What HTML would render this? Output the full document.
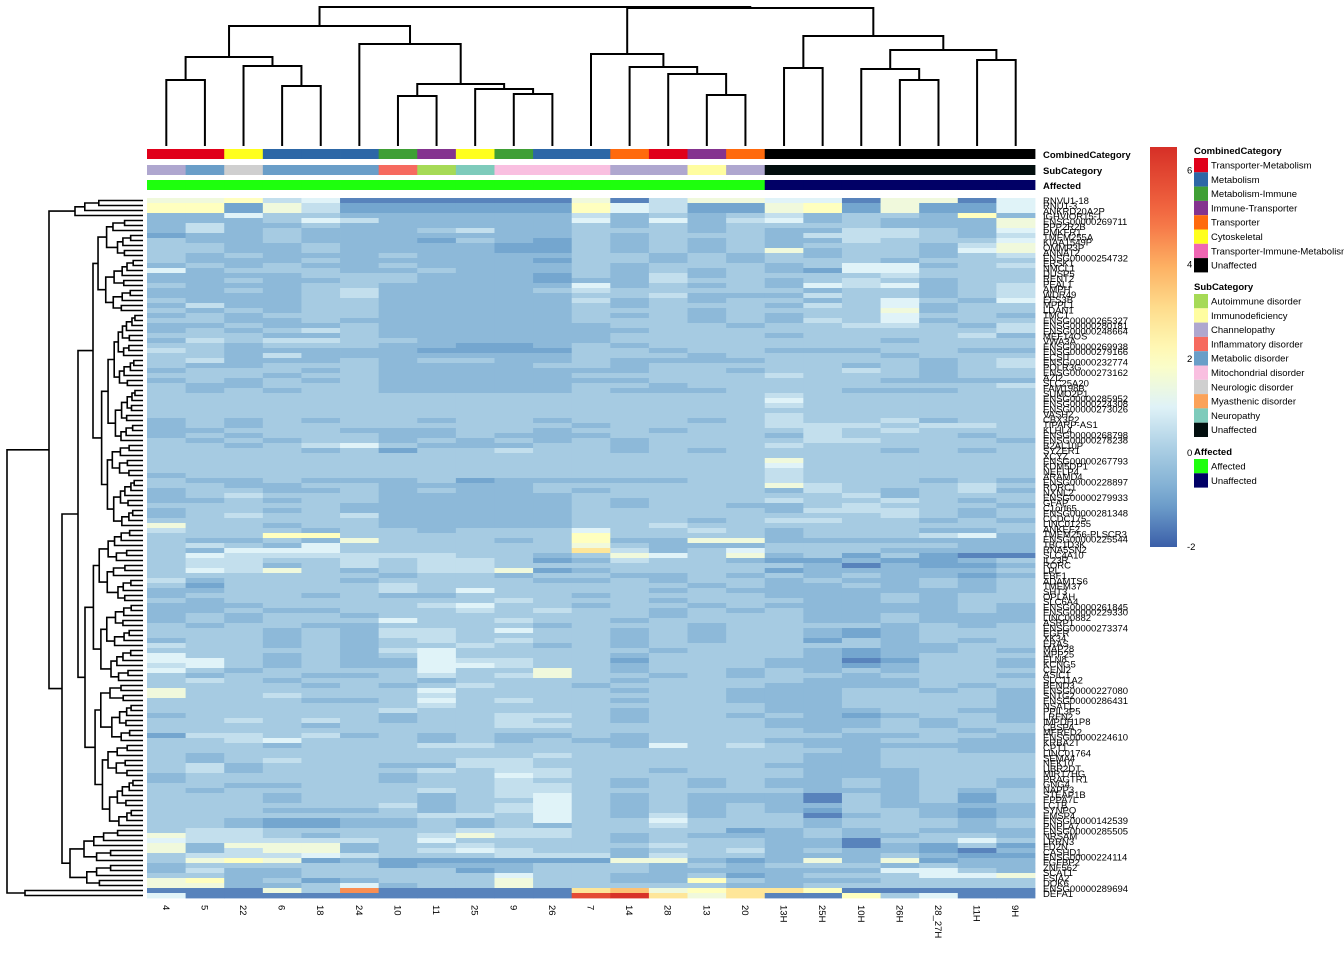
<!DOCTYPE html>
<html><head><meta charset="utf-8">
<style>
html,body{margin:0;padding:0;background:#fff;}
svg{display:block;font-family:"Liberation Sans",Arial,sans-serif;}
</style></head>
<body>
<svg id="chart" width="1344" height="960" viewBox="0 0 1344 960" xmlns="http://www.w3.org/2000/svg">
<g id="colDendro"></g>
<g id="rowDendro"></g>
<g id="annot"></g>
<g id="cells"></g>
<g id="rowLabels" font-size="9.5" fill="#000"></g>
<g id="colLabels" font-size="9.5" fill="#000"></g>
<g id="legend" font-size="9.5"></g>
</svg>
<script>
// ---------- data ----------
const columns = ["4","5","22","6","18","24","10","11","25","9","26","7","14","28","13","20","13H","25H","10H","26H","28_27H","11H","9H"];
const combinedCategory = ["Transporter-Metabolism","Transporter-Metabolism","Cytoskeletal","Metabolism","Metabolism","Metabolism","Metabolism-Immune","Immune-Transporter","Cytoskeletal","Metabolism-Immune","Metabolism","Metabolism","Transporter","Transporter-Metabolism","Immune-Transporter","Transporter","Unaffected","Unaffected","Unaffected","Unaffected","Unaffected","Unaffected","Unaffected"];
const subCategory = ["Channelopathy","Metabolic disorder","Neurologic disorder","Metabolic disorder","Metabolic disorder","Metabolic disorder","Inflammatory disorder","Autoimmune disorder","Neuropathy","Mitochondrial disorder","Mitochondrial disorder","Mitochondrial disorder","Channelopathy","Channelopathy","Immunodeficiency","Channelopathy","Unaffected","Unaffected","Unaffected","Unaffected","Unaffected","Unaffected","Unaffected"];
const affected = ["Affected","Affected","Affected","Affected","Affected","Affected","Affected","Affected","Affected","Affected","Affected","Affected","Affected","Affected","Affected","Affected","Unaffected","Unaffected","Unaffected","Unaffected","Unaffected","Unaffected","Unaffected"];
const combinedNames = ["Transporter-Metabolism","Metabolism","Metabolism-Immune","Immune-Transporter","Transporter","Cytoskeletal","Transporter-Immune-Metabolism","Unaffected"];
const combinedColors = ["#e0001a","#2d67a6","#3f9f35","#84338f","#ff6a0d","#ffff1e","#ef66b3","#000000"];
const subNames = ["Autoimmune disorder","Immunodeficiency","Channelopathy","Inflammatory disorder","Metabolic disorder","Mitochondrial disorder","Neurologic disorder","Myasthenic disorder","Neuropathy","Unaffected"];
const subColors = ["#a6da56","#fffda0","#afa7cf","#f66a5f","#6a9ec8","#f9bfe0","#cfcfcf","#fba259","#7ecbbb","#020e0e"];
const affNames = ["Affected","Unaffected"];
const affColors = ["#1eff0d","#010066"];
const colorTicks = [6,4,2,0,-2];
const codeValues = {"0":-2,"1":-1.5,"2":-1,"3":-0.5,"4":0,"5":0.5,"6":1,"7":1.5,"8":2,"9":2.8,"A":3.6,"B":4.5,"C":5.8,"D":6.4};
const rows = [
"77856111111715776617716","88275222222865227827226","88275222222865227827226","33644333333534345344383",
"33346533333636356343337","35334333333434344443337","35343334533444343355436","23343333333434443555435",
"43343332432434343354446","44334333322434343444357","44334333322434347344367","43433343333443434344345",
"43334333332443434443444","34343343333434443466345","63444334333434343266444","33334443332435344445444",
"33433443332335443454344","43334433333634343656345","33434533334544444344345","33334533333445333544345",
"43334433333534344346436","35334433333434443546344","43434433333444344447344","34344433333434343446443",
"44334333333444343546344","33433433333344434455435","34345433333334444444445","44433433333344443444453",
"35455443333344444443444","44344433223434444444444","54333332222443443334433","44353333333444344443444",
"45333434433433334444345","43344433334434444434345","34443433333334434454344","44434433333444445444344",
"34343433333334444443333","43344433333443444444445","43434433333433344433344","44444444444444445444444",
"44444444444444446444444","44444444444444445444444","44444444444444444444444","44444444444444445444444",
"34343443443444345445344","34344444444344445554554","33444333443443444545444","34344433433344443544434",
"43434434343434444554443","44345643334434445444444","44443424454434344443434","44444444444444444444444",
"44444444444444447444444","44444444444444446444444","44444444444444445444444","34444444444444445444444",
"43343334233333445444343","44334433334444447544454","34433434334344443543453","34544433333444444453444",
"33434433333434445445434","44444333333434433454443","34434333333444443555434","34544533333444444445434",
"44444433333444345544343","74434433333445444444444","54443443444644543444334","44488444444844443444563",
"43343744434833773333333","45436444444743334444433","43666444444953464443333","46555555443476473424211",
"45544545542354432232234","45534545544444444313223","46574345572344442333334","44444434434433434343323",
"53444344443343443433434","42444454444444343343434","33444454644443433333334","34443433444344443334344",
"43444444454443444334344","33344445644344343333343","33433444545443434333343","34344344444443444334333",
"34344464454434444334333","43443344443444344443434","44434355464434344323444","44434355444434344323444",
"34434345454434344243434","54434344543434444443344","44444356444443444323343","64434346444434444323444",
"66434336554424443312443","56434336654434443323443","64344446447434434343444","43443345457443434434443",
"45434443444434444333444","44443434544344443333434","74444446444434433344343","74454445444444433344443",
"44443346454434433344443","44444445444444443344443","44444454444434443334433","34444434455434434323443",
"44545434454434443334343","44443444455444443334344","44444444444444444344434","25545343433434444433443",
"44564443434334443334433","44434445544436454333333","44444444444444444434433","43444444445444444334444",
"43454444554444444334444","45344433554444443334444","45344445455443444333444","34444434465444444333444",
"34444434454434343343443","44334444455434343343443","43444445455444444333434","44434443456434333143424",
"44434443446434333143424","44444453456434343343333","44433343456434343244323","44444445546435344134323",
"44322334346446444344434","44322334343445444344434","45544444555444423434333","75543445755434333433443",
"65555546444434443314464","73777344544445443313242","73577345654434453433213","45556544455535443334322",
"47872322222277323737233","34444423334443434443433","35334444234443333336643","44334444464433423444667",
"78342344474433843334444","77334634474444433444444","11174B111119A7899811111","61111111111CD9791184611"
];
const rowNames = ["RNVU1-18","RNU1-3","ANKRD20A2P","IGHVIOR15-1","ENSG00000269711","PPP2R2B","PMKFR1","TMEM255A","KIAA1549P","OMMP3P","ANNAT2","ENSG00000254732","ERSK1","NMCL1","DUSP5","RENT2","PEAL1","AMPH","WDR49","EFS3B","MPPL1","LDAN1","TMC1","ENSG00000265327","ENSG00000280181","ENSG00000248664","MEF14OS","VWA3A","ENSG00000269938","ENSG00000279166","ECSIT","ENSG00000232774","POLR3G","ENSG00000273162","AZI2","SLC25A20","FAM198B","SUMO2P1","ENSG00000285952","ENSG00000224308","ENSG00000273026","VASH2","CBX3P2","TIPARP-AS1","KLHL4","ENSG00000268798","ENSG00000278238","B2AL10P","SYZER1","XCYZ","ENSG00000267793","KDM5DP1","NEFLP4","ARAMD4","ENSG00000228897","RORC1","NXNL2","ENSG00000279933","GFAP","C1orf65","ENSG00000281348","CCDC175","LINC01255","ANKEF2","TMEM256-PLSCR3","ENSG00000225544","TBC1D3K","RNA5SN2","SLC4A10","IL23R","RORC","LPL","EBF1","ADAMTS6","TMEM37","SHT3","OPLAH","SLC6A4","ENSG00000261845","ENSG00000229330","LINC00882","ASRP1","ENSG00000273374","EGFR","XK34","ERAS","MAP28","MPP25","ELN8","KCNG5","CENI2","ASIC1","SLC11A2","BEND3","ENSG00000227080","SNTG2","ENSG00000286431","NSAT1","PPIL3P5","LRFN2","IMPDH1P8","CBSPA","MFRED2","ENSG00000224610","KRBA2T","CPT1","LINC01764","SEMA4","NEK10","UBR2DT","MIR17HG","PRAGTR1","GNG4","NAPP3","STEAP1B","EPPA7L","LCTB","SYNPO","EMSP4","ENSG00000142539","PNPLA7","ENSG00000285505","NRSAM","LRRN3","FD2N","CASHD1","ENSG00000224114","FGFBP2","ZNF562","SCAT1","FSIA2","DOK6","ENSG00000289694","DEFA1"];

// ---------- geometry ----------
const NS="http://www.w3.org/2000/svg";
const X0=147, X1=1035, Y0=198, Y1=898;
const cw=(X1-X0)/columns.length;
const rh=(Y1-Y0)/rows.length;
const xOf=i=>X0+i*cw;
const yOf=r=>Y0+r*rh;
function mk(tag,attrs,parent){const e=document.createElementNS(NS,tag);for(const k in attrs)e.setAttribute(k,attrs[k]);parent.appendChild(e);return e;}

const stops=[[-2,[59,95,168]],[-1,[116,166,207]],[0,[166,203,226]],[1,[224,243,248]],[2,[255,255,191]],[3,[254,224,144]],[4,[253,174,97]],[5,[244,109,67]],[6.5,[214,47,39]]];
function col(v){
  if(v<=stops[0][0])return `rgb(${stops[0][1]})`;
  for(let i=1;i<stops.length;i++){if(v<=stops[i][0]){const a=stops[i-1],b=stops[i];const t=(v-a[0])/(b[0]-a[0]);return `rgb(${a[1].map((c,j)=>Math.round(c+(b[1][j]-c)*t)).join(',')})`;}}
  return `rgb(${stops[stops.length-1][1]})`;
}

// ---------- cells ----------
const gc=document.getElementById('cells');
rows.forEach((s,r)=>{
  for(let c=0;c<columns.length;c++){
    const ch=s[c]||"4";
    const v=codeValues[ch]!==undefined?codeValues[ch]:0;
    const e=mk('rect',{x:xOf(c).toFixed(2),y:yOf(r).toFixed(2),width:(cw+0.4).toFixed(2),height:(rh+0.4).toFixed(2),fill:col(v)},gc);
    
    
  }
});

// ---------- annotations ----------
const ga=document.getElementById('annot');
const annRows=[[combinedCategory,combinedNames,combinedColors,149,"CombinedCategory"],[subCategory,subNames,subColors,165,"SubCategory"],[affected,affNames,affColors,180,"Affected"]];
annRows.forEach(([vals,names,colors,y,title])=>{
  vals.forEach((v,i)=>{
    const e=mk('rect',{x:xOf(i).toFixed(2),y:y,width:(cw+0.4).toFixed(2),height:10,fill:colors[names.indexOf(v)]},ga);
    
    
  });
  const t=mk('text',{x:1043,y:y+9,'font-size':9.5,'font-weight':'bold'},ga);
  t.textContent=title;
  
  
});

// ---------- row labels ----------
const gr=document.getElementById('rowLabels');
const ls=(896-203)/(rowNames.length-1);
rowNames.forEach((n,i)=>{
  const t=mk('text',{x:1043,y:(204+i*ls).toFixed(1)},gr);
  t.textContent=n;
  
  
});

// ---------- column labels ----------
const gcl=document.getElementById('colLabels');
columns.forEach((n,i)=>{
  const cx=xOf(i)+cw/2;
  const t=mk('text',{x:0,y:0,transform:`translate(${(cx-3.5).toFixed(1)},905) rotate(90)`},gcl);
  t.textContent=n;
  
  
});

// ---------- column dendrogram ----------
const gd=document.getElementById('colDendro');
const merges=[[0,1,80],[3,4,86],[2,"b",66],["a","c",57],[6,7,96],[9,10,94],[8,"f",89],["e","g",84],[5,"h",44],["d","i",26],[14,15,95],[13,"k",74],[12,"l",67],[11,"m",54],[16,17,68],[19,20,80],[18,"p",69],[21,22,60],["q","r",50],["o","s",36],["n","t",8],["j","u",7]];
const mnames="abcdefghijklmnopqrstuv";
const dnodes={};
for(let i=0;i<columns.length;i++)dnodes[i]={x:xOf(i)+cw/2,y:146};
merges.forEach((m,k)=>{
  const A=dnodes[m[0]],B=dnodes[m[1]],h=m[2];
  const p=mk('path',{d:`M${A.x},${A.y}V${h}H${B.x}V${B.y}`,fill:'none',stroke:'#000','stroke-width':2},gd);
  
  
  dnodes[mnames[k]]={x:(A.x+B.x)/2,y:h};
});

// ---------- row dendrogram ----------
const gdr=document.getElementById('rowDendro');
function drawU(L,R,x){
  const p=mk('path',{d:`M${L.x},${L.y.toFixed(1)}H${x}V${R.y.toFixed(1)}H${R.x}`,fill:'none',stroke:'#000','stroke-width':1.6},gdr);
  
  
}
function branch(a,b,x){
  const n=b-a+1;
  if(n===1)return {x:143,y:yOf(a)+rh/2};
  let split;
  if(n===2)split=a;
  else{ const f=[0.45,0.3,0.6,0.5,0.38,0.55][(a*7+b*3)%6]; split=a+Math.max(0,Math.min(n-2,Math.round((n-1)*f)));}
  const step=Math.max(3,Math.min(14,(143-x)/(Math.log2(n)+1)));
  const L=branch(a,split,Math.min(141,x+step*((a+b)%3===0?0.7:1)));
  const R=branch(split+1,b,Math.min(141,x+step*((a+b)%2?1.2:0.9)));
  drawU(L,R,x);
  return {x:x,y:(L.y+R.y)/2};
}
const nRows=rows.length;
const topClust=branch(0,3,75);
const midA=branch(4,65,93);
const midB=branch(66,125,85);
const midClust={x:78,y:(midA.y+midB.y)/2}; drawU(midA,midB,78);
const lowB=branch(126,137,70);
const a2Clust={x:62,y:(midClust.y+lowB.y)/2}; drawU(midClust,lowB,62);
const clA={x:49,y:(topClust.y+a2Clust.y)/2}; drawU(topClust,a2Clust,49);
const botClust=branch(138,nRows-1,25);
drawU(clA,botClust,7);

// ---------- legend ----------
const gl=document.getElementById('legend');
const defs=mk('defs',{},gl);
const lg=mk('linearGradient',{id:'cbar',x1:0,y1:1,x2:0,y2:0},defs);
const vmin=-2,vmax=6.5,cbTop=147,cbBot=547;
for(let i=0;i<=20;i++){const v=vmin+(vmax-vmin)*i/20;mk('stop',{offset:(i/20),'stop-color':col(v)},lg);}
const cb=mk('rect',{x:1150,y:cbTop,width:27,height:cbBot-cbTop,fill:'url(#cbar)'},gl);


colorTicks.forEach(v=>{
  const y=cbBot-(v-vmin)/(vmax-vmin)*(cbBot-cbTop);
  const t=mk('text',{x:1187,y:(y+3).toFixed(1)},gl);
  t.textContent=String(v);
  
  
});
function legendBlock(title,names,colors,y0){
  const t=mk('text',{x:1194,y:y0,'font-weight':'bold'},gl);
  t.textContent=title;
  
  
  names.forEach((n,i)=>{
    const y=y0+4+i*14.3;
    const r=mk('rect',{x:1194,y:y.toFixed(1),width:14,height:14.3,fill:colors[i]},gl);
    
    
    const tt=mk('text',{x:1211,y:(y+10.5).toFixed(1)},gl);
    tt.textContent=n;
    
    
  });
}
legendBlock("CombinedCategory",combinedNames,combinedColors,154);
legendBlock("SubCategory",subNames,subColors,290);
legendBlock("Affected",affNames,affColors,455);
</script>
</body></html>
